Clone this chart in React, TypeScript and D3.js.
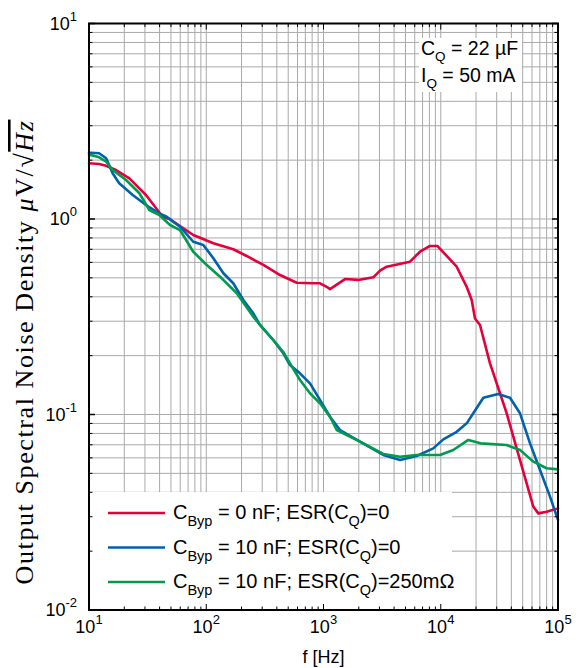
import React from "react";
import * as d3 from "d3";

// ---------- data ----------
const redF = [10, 12.2, 14, 17, 22.1, 30.6, 42.5, 49.1, 77.5, 115, 170, 221, 307, 426, 591, 818, 933, 1065, 1136, 1526, 1981, 2659, 3034, 3459, 5466, 6653, 8094, 9346, 11237, 13677, 16645, 18366, 19588, 21618, 26303, 32017, 36512, 47434, 61560, 67920, 80090, 100000];
const redV = [1.93, 1.91, 1.87, 1.78, 1.615, 1.327, 1.027, 0.996, 0.828, 0.751, 0.70, 0.647, 0.582, 0.517, 0.472, 0.469, 0.469, 0.45, 0.438, 0.493, 0.488, 0.503, 0.544, 0.57, 0.605, 0.68, 0.728, 0.728, 0.647, 0.57, 0.45, 0.385, 0.31, 0.287, 0.1827, 0.1284, 0.1014, 0.0585, 0.0338, 0.0312, 0.0318, 0.0331];

const blueF = [10, 10.4, 12.2, 14, 15.9, 18.1, 23.6, 30.6, 39.8, 46, 59.7, 77.5, 94.4, 115, 140, 170, 207, 252, 287, 373, 454, 518, 630, 767, 933, 1136, 1383, 2048, 3236, 4494, 6236, 8640, 10513, 13677, 16645, 18950, 23070, 30960, 38960, 47434, 57730, 70240, 85490, 100000];
const blueV = [2.18, 2.183, 2.168, 2.044, 1.713, 1.522, 1.327, 1.179, 1.069, 1.027, 0.913, 0.765, 0.736, 0.63, 0.528, 0.469, 0.385, 0.329, 0.287, 0.2405, 0.2056, 0.179, 0.1624, 0.1444, 0.1187, 0.0974, 0.0833, 0.0726, 0.0621, 0.0585, 0.0613, 0.0671, 0.0746, 0.0816, 0.0901, 0.1014, 0.1218, 0.1273, 0.1218, 0.1014, 0.0712, 0.052, 0.038, 0.0289];

const greenF = [10, 10.4, 12.2, 14, 15.9, 20.7, 26.9, 32.7, 39.8, 49.1, 59.7, 77.5, 101, 131, 182, 252, 297, 373, 454, 518, 630, 767, 933, 1136, 1296, 2048, 3236, 4494, 6236, 9854, 12794, 17180, 21840, 36512, 47434, 61560, 80090, 100000];
const greenV = [2.12, 2.126, 2.068, 1.964, 1.78, 1.583, 1.354, 1.112, 1.048, 0.932, 0.878, 0.68, 0.582, 0.507, 0.417, 0.316, 0.281, 0.2405, 0.2088, 0.1827, 0.1501, 0.1284, 0.1141, 0.0974, 0.0833, 0.0726, 0.0628, 0.0608, 0.0621, 0.0621, 0.0658, 0.0741, 0.0712, 0.0698, 0.0658, 0.0574, 0.0531, 0.0524];

const xDecades = [1, 2, 3, 4, 5];
const yDecades = [1, 0, -1, -2];

const legendMain = ["C", "C", "C"];
const legendSub = ["Byp", "Byp", "Byp"];
const legendRest = [" = 0 nF; ESR(C", " = 10 nF; ESR(C", " = 10 nF; ESR(C"];
const legendTail = [")=0", ")=0", ")=250mΩ"];
const colors = ["#e3003b", "#0062ad", "#009b4f"];

// ---------- layout ----------
const W = 580, H = 668;
const L = 89, R = 558, T = 23.5, B = 610;

export default function App() {
  const x = d3.scaleLog().domain([10, 1e5]).range([L, R]);
  const y = d3.scaleLog().domain([1e-2, 10]).range([B, T]);

  const xMinor: number[] = [];
  for (let e = 1; e < 5; e++) for (let m = 2; m <= 9; m++) xMinor.push(m * Math.pow(10, e));
  const yMinor: number[] = [];
  for (let e = -2; e < 1; e++) for (let m = 2; m <= 9; m++) yMinor.push(m * Math.pow(10, e));
  const xMajor = xDecades.map((d) => Math.pow(10, d));
  const yMajor = yDecades.map((d) => Math.pow(10, d));

  const line = d3
    .line<[number, number]>()
    .x((d) => x(d[0]))
    .y((d) => y(d[1]));

  const series = [
    redF.map((f, i) => [f, redV[i]] as [number, number]),
    blueF.map((f, i) => [f, blueV[i]] as [number, number]),
    greenF.map((f, i) => [f, greenV[i]] as [number, number]),
  ];

  const gridColor = "#a9a9a9";
  const sans = "'Liberation Sans', Arial, sans-serif";
  const serif = "'Liberation Serif', 'Times New Roman', serif";

  const legendY0 = 513;
  const legendDy = 34.5;

  return (
    <svg width={W} height={H} style={{ position: "absolute", left: 0, top: 0, background: "#fff" }}>
      <rect x={0} y={0} width={W} height={H} fill="#fff" />
      {/* grid */}
      <g stroke={gridColor} strokeWidth={1}>
        {[...xMinor, ...xMajor].map((v, i) => (
          <line key={"gx" + i} x1={x(v)} x2={x(v)} y1={T} y2={B} />
        ))}
        {[...yMinor, ...yMajor].map((v, i) => (
          <line key={"gy" + i} x1={L} x2={R} y1={y(v)} y2={y(v)} />
        ))}
      </g>
      {/* series */}
      <g fill="none" strokeWidth={2.6} strokeLinejoin="round" strokeLinecap="round">
        {series.map((s, i) => (
          <path key={i} d={line(s) || ""} stroke={colors[i]} />
        ))}
      </g>
      {/* annotation box */}
      <rect x={419} y={38} width={103} height={54} fill="#fff" />
      <text x={421} y={55} fontFamily={sans} fontSize={19.5}>
        C<tspan dy={6} fontSize={13.5}>Q</tspan>
        <tspan dy={-6}> = 22 µF</tspan>
      </text>
      <text x={421} y={82} fontFamily={sans} fontSize={19.5}>
        I<tspan dy={6} fontSize={13.5}>Q</tspan>
        <tspan dy={-6}> = 50 mA</tspan>
      </text>
      {/* legend */}
      <rect x={L} y={492} width={363} height={B - 492} fill="#fff" />
      {colors.map((c, i) => {
        const ly = legendY0 + i * legendDy;
        return (
          <g key={"lg" + i}>
            <line x1={108} x2={165} y1={ly} y2={ly} stroke={c} strokeWidth={2.6} />
            <text x={173} y={ly + 6} fontFamily={sans} fontSize={20}>
              {legendMain[i]}
              <tspan dy={7} fontSize={14.5}>{legendSub[i]}</tspan>
              <tspan dy={-7}>{legendRest[i]}</tspan>
              <tspan dy={7} fontSize={14.5}>Q</tspan>
              <tspan dy={-7}>{legendTail[i]}</tspan>
            </text>
          </g>
        );
      })}
      {/* ticks */}
      <g stroke="#000" strokeWidth={1}>
        {xMinor.map((v, i) => (
          <g key={"xt" + i}>
            <line x1={x(v)} x2={x(v)} y1={B} y2={B - 3.5} />
            <line x1={x(v)} x2={x(v)} y1={T} y2={T + 3.5} />
          </g>
        ))}
        {xMajor.map((v, i) => (
          <g key={"xT" + i}>
            <line x1={x(v)} x2={x(v)} y1={B} y2={B - 6} />
            <line x1={x(v)} x2={x(v)} y1={T} y2={T + 6} />
          </g>
        ))}
        {yMinor.map((v, i) => (
          <g key={"yt" + i}>
            <line x1={L} x2={L + 3.5} y1={y(v)} y2={y(v)} />
            <line x1={R} x2={R - 3.5} y1={y(v)} y2={y(v)} />
          </g>
        ))}
        {yMajor.map((v, i) => (
          <g key={"yT" + i}>
            <line x1={L} x2={L + 6} y1={y(v)} y2={y(v)} strokeWidth={1.5} />
            <line x1={R} x2={R - 6} y1={y(v)} y2={y(v)} strokeWidth={1.5} />
          </g>
        ))}
      </g>
      {/* frame */}
      <rect x={L} y={T} width={R - L} height={B - T} fill="none" stroke="#000" strokeWidth={2} />
      {/* x tick labels */}
      {xDecades.map((d) => (
        <text key={"xl" + d} x={x(Math.pow(10, d))} y={633} textAnchor="middle" fontFamily={sans} fontSize={18}>
          10<tspan dy={-9} fontSize={13}>{d}</tspan>
        </text>
      ))}
      {/* y tick labels */}
      {yDecades.map((d) => (
        <text key={"yl" + d} x={77} y={y(Math.pow(10, d)) + 6} textAnchor="end" fontFamily={sans} fontSize={18}>
          10<tspan dy={-9} fontSize={13}>{d}</tspan>
        </text>
      ))}
      {/* axis titles */}
      <text x={(L + R) / 2} y={663} textAnchor="middle" fontFamily={sans} fontSize={18}>
        f [Hz]
      </text>
      <text
        transform={`translate(33, 352) rotate(-90)`}
        textAnchor="middle"
        fontFamily={serif}
        fontSize={26}
        letterSpacing={1.6}
      >
        Output Spectral Noise Density{" "}
        <tspan fontStyle="italic">μ</tspan>V/√<tspan fontStyle="italic" textDecoration="overline">Hz</tspan>
      </text>
    </svg>
  );
}
